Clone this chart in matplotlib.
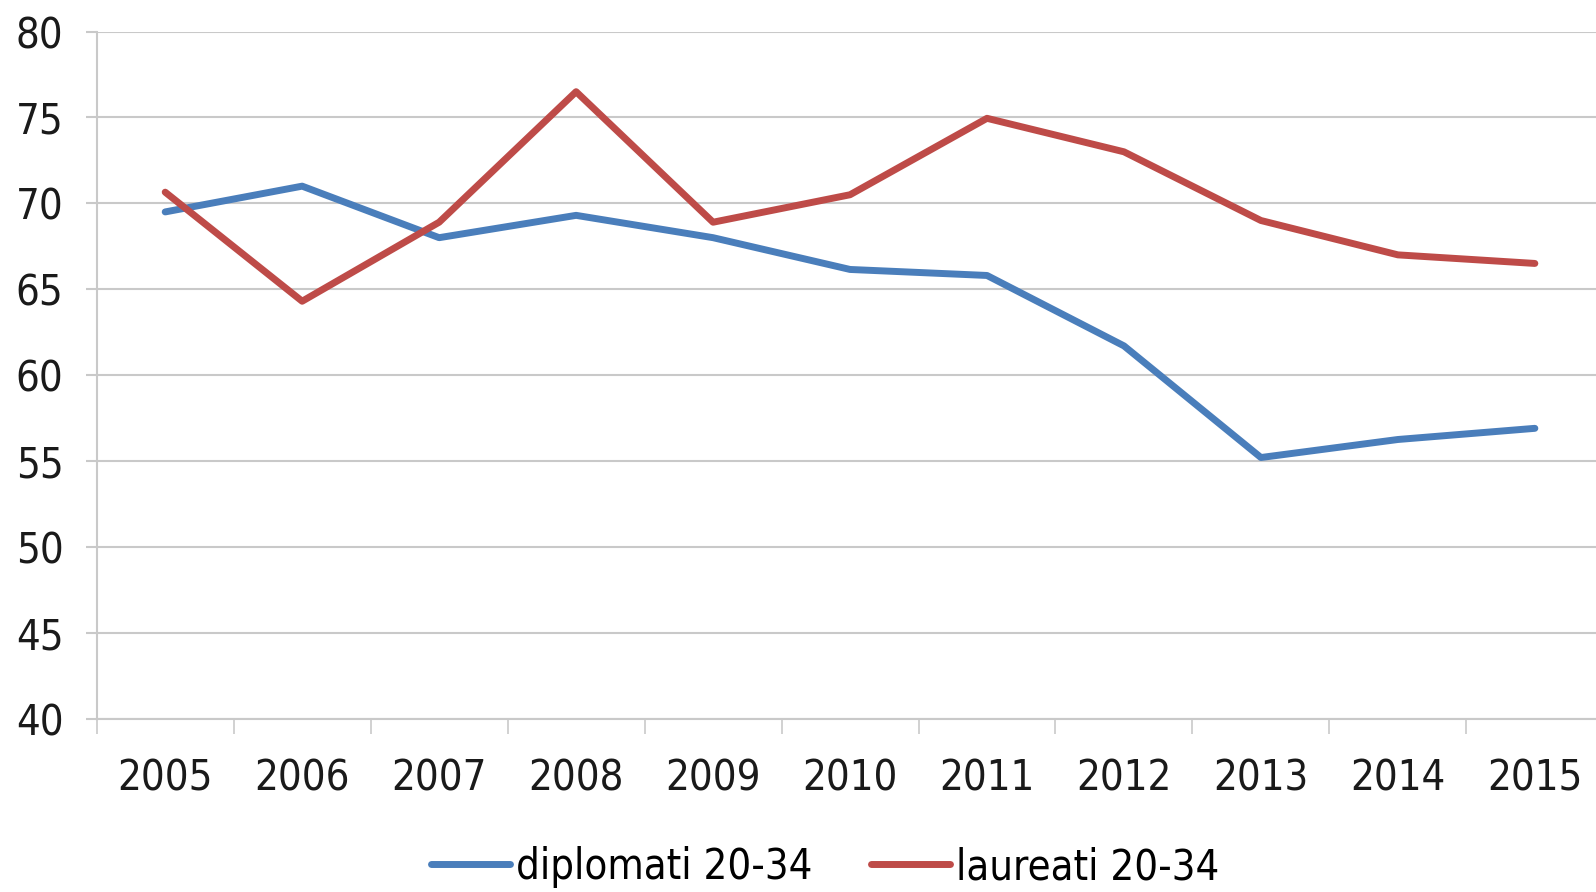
import numpy as np
import matplotlib
matplotlib.use("Agg")
import matplotlib.pyplot as plt
from matplotlib.ticker import FixedLocator

# Data
years = ['2005', '2006', '2007', '2008', '2009', '2010', '2011', '2012', '2013', '2014', '2015']
diplomati = [69.5, 71.0, 68.0, 69.3, 68.0, 66.15, 65.8, 61.7, 55.2, 56.25, 56.9]
laureati = [70.65, 64.3, 68.9, 76.5, 68.9, 70.5, 74.95, 73.0, 69.0, 67.0, 66.5]
yticks = [40, 45, 50, 55, 60, 65, 70, 75, 80]

plt.rcParams['font.family'] = ['DejaVu Sans']
plt.rcParams['font.stretch'] = 'condensed'

blue = '#4A7EBB'
red = '#BE4B48'
grid_col = '#C9C9C9'
fs = 30

fig = plt.figure(figsize=(15.96, 8.92), dpi=100)
ax = fig.add_axes([0.0606, 0.1944, 0.944, 0.7702])

x = np.arange(len(years))
ax.plot(x, diplomati, color=blue, linewidth=5.0, label='diplomati 20-34',
        solid_joinstyle='round', solid_capstyle='round', zorder=3)
ax.plot(x, laureati, color=red, linewidth=5.0, label='laureati 20-34',
        solid_joinstyle='round', solid_capstyle='round', zorder=3)

ax.set_xlim(-0.5, len(years) - 0.5)
ax.set_ylim(40, 80)
ax.set_yticks(yticks)
ax.set_yticklabels([str(v) for v in yticks], fontsize=fs, color='#1a1a1a')
ax.yaxis.grid(True, color=grid_col, linewidth=1.5)
ax.set_axisbelow(True)

# category labels at centres, tick marks at boundaries
ax.set_xticks(x)
ax.set_xticklabels(years, fontsize=fs, color='#1a1a1a')
ax.xaxis.set_minor_locator(FixedLocator(np.arange(-0.5, len(years), 1.0)))
ax.tick_params(axis='x', which='major', length=0, pad=28)
ax.tick_params(axis='x', which='minor', length=11, width=1.2, color=grid_col)
ax.tick_params(axis='y', length=8, width=1.5, color=grid_col, pad=16)

for s in ['top', 'right']:
    ax.spines[s].set_visible(False)
ax.spines['left'].set_color(grid_col)
ax.spines['left'].set_linewidth(1.5)
ax.spines['bottom'].set_color(grid_col)
ax.spines['bottom'].set_linewidth(1.5)

fig.legend(loc='center', bbox_to_anchor=(0.517, 0.028), ncol=2, frameon=False,
           fontsize=fs, handlelength=1.9, handletextpad=0.15, columnspacing=1.4)

fig.savefig('out.png', dpi=100)
